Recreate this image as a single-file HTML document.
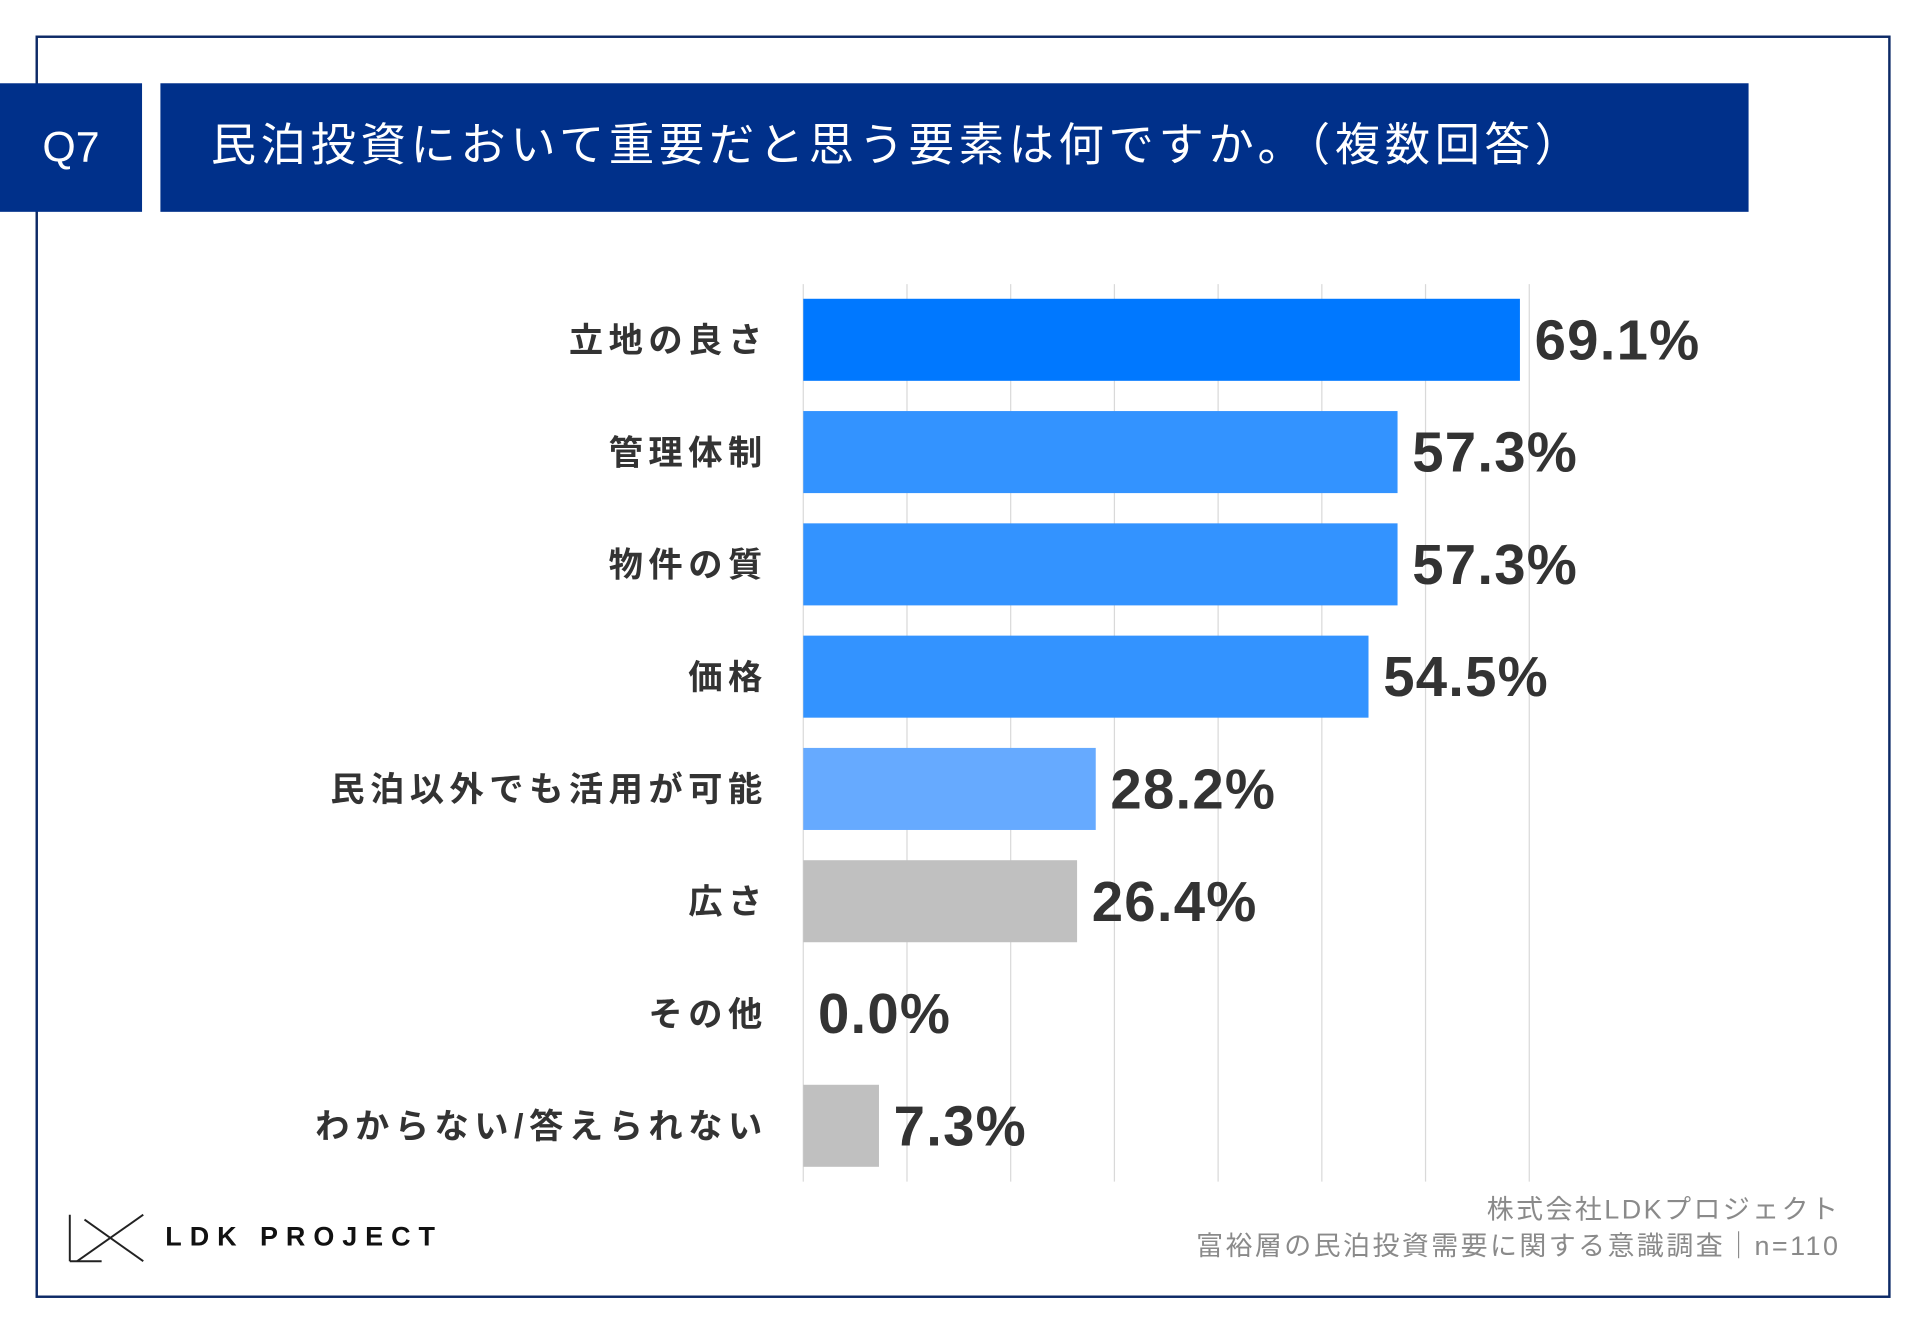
<!DOCTYPE html>
<html><head><meta charset="utf-8">
<style>
html,body{margin:0;padding:0;background:#fff;}
body{width:1920px;height:1329px;overflow:hidden;position:relative;font-family:"Liberation Sans","Noto Sans CJK JP",sans-serif;}
#wrap{position:absolute;left:0;top:0;width:1568px;height:1085px;transform:scale(1.22449);transform-origin:0 0;}
.abs{position:absolute;}
</style></head><body>
<div id="wrap">
  <div class="abs" style="left:29px;top:29px;width:1511px;height:1027px;border:2px solid #0d2a66;"></div>
  <div class="abs" style="left:0;top:68px;width:116px;height:105px;background:#00308a;color:#fff;font-size:35px;line-height:105px;text-align:center;">Q7</div>
  <div class="abs" style="left:131px;top:68px;width:1297px;height:105px;background:#00308a;color:#fff;font-size:37px;line-height:102px;padding-left:41px;box-sizing:border-box;letter-spacing:3.8px;white-space:nowrap;">民泊投資において重要だと思う要素は何ですか。（複数回答）</div>
  <svg id="chart" class="abs" style="left:0;top:0" width="1568" height="1085"></svg>
  <svg class="abs" style="left:55px;top:990px" width="66" height="42">
    <line x1="2" y1="2" x2="2" y2="40" stroke="#222" stroke-width="1.6"/>
    <line x1="2" y1="40" x2="28" y2="40" stroke="#222" stroke-width="1.6"/>
    <line x1="8" y1="40" x2="62" y2="2" stroke="#222" stroke-width="1.6"/>
    <line x1="14" y1="6" x2="62" y2="40" stroke="#222" stroke-width="1.6"/>
  </svg>
  <div class="abs" style="left:135px;top:997px;font-size:22px;letter-spacing:6.5px;color:#111;font-weight:bold;">LDK PROJECT</div>
  <div class="abs" style="right:65px;top:970px;font-size:22px;color:#8a8a8a;text-align:right;letter-spacing:2px;">株式会社LDKプロジェクト</div>
  <div class="abs" style="right:65px;top:1000px;font-size:22px;color:#8a8a8a;text-align:right;letter-spacing:2px;">富裕層の民泊投資需要に関する意識調査｜n=110</div>
</div>
<script>
const categories=["立地の良さ","管理体制","物件の質","価格","民泊以外でも活用が可能","広さ","その他","わからない/答えられない"];
const values=[69.1,57.3,57.3,54.5,28.2,26.4,0.0,7.3];
const barColors=["#0078ff","#3393ff","#3393ff","#3393ff","#66aaff","#c0c0c0","#c0c0c0","#c0c0c0"];
const gridTicks=[0,10,20,30,40,50,60,70];
const NS="http://www.w3.org/2000/svg";
const svg=document.getElementById('chart');
const x0=656,pxPer=8.47,yTop=244,pitch=91.7,barH=67;
const xs=v=>x0+v*pxPer;
const yc=i=>yTop+i*pitch+barH/2;
function mk(t,a){const e=document.createElementNS(NS,t);for(const k in a)e.setAttribute(k,a[k]);svg.appendChild(e);return e;}
gridTicks.forEach(t=>{
  const l=mk('line',{x1:xs(t),x2:xs(t),y1:232,y2:965,stroke:'#d9d9d9','stroke-width':1});
  
  
});
categories.forEach((c,i)=>{
  const r=mk('rect',{x:x0,y:yc(i)-barH/2,width:Math.max(0,xs(values[i])-x0),height:barH,fill:barColors[i]});
  
  
  const lab=mk('text',{x:627,y:yc(i)+10,'text-anchor':'end','font-size':28,'font-weight':'bold',fill:'#333','letter-spacing':4.5,'font-family':'"Liberation Sans","Noto Sans CJK JP",sans-serif'});
  lab.textContent=c;
  
  
  const v=mk('text',{x:xs(values[i])+12,y:yc(i)+16,'font-size':46,'font-weight':'bold',fill:'#333','letter-spacing':1,'font-family':'"Liberation Sans",sans-serif'});
  v.textContent=values[i].toFixed(1)+'%';
  
  
});
</script>
</body></html>
